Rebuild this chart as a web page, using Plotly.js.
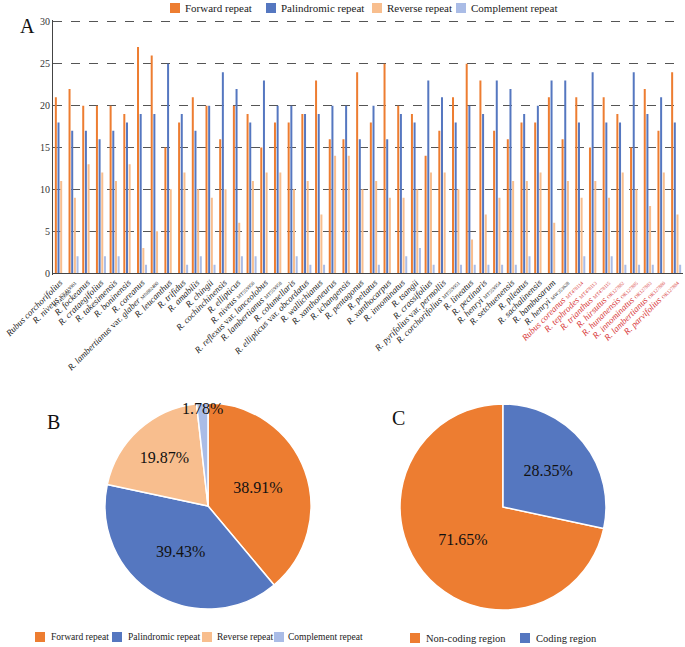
<!DOCTYPE html>
<html>
<head>
<meta charset="utf-8">
<script src="https://cdn.plot.ly/plotly-3.0.1.min.js"></script>
<style>
html,body{margin:0;padding:0;background:#fff;}
#chart{width:685px;height:647px;}
</style>
</head>
<body>
<div id="chart"></div>
<script>
// ---- Data ----
const species = [
  "Rubus corchorifolius","R. niveus","R. fockeanus","R. crataegifolius","R. takesimensis",
  "R. boninensis","R. coreanus","R. lambertianus var. glaber","R. leucanthus","R. trifidus",
  "R. amabilis","R. chingii","R. cochinchinensis","R. ellipticus","R. niveus",
  "R. reflexus var. lanceolobus","R. lambertianus","R. columellaris","R. ellipticus var. obcordatus","R. wallichianus",
  "R. xanthoneurus","R. ichangensis","R. pentagonus","R. peltatus","R. xanthocarpus",
  "R. innominatus","R. tsangii","R. crassifolius","R. pyrifolius var. permollis","R. corchorifolius",
  "R. lineatus","R. pectinaris","R. henryi","R. setchuenensis","R. pileatus",
  "R. sachalinensis","R. bambusarum","R. henryi","Rubus coreanus","R. tephrodes",
  "R. trianthus","R. hirsutus","R. hunanensis","R. innominatus","R. lambertianus",
  "R. parvifolius"
];
const accessions = [
  "KY419960","KY419961","","","",
  "","","MN882460","","",
  "","","","","MT559956",
  "","MT559958","","","",
  "","","","","",
  "","","","","MT559951",
  "","","MT559954","","",
  "","","MW353628","MT478114","MT478113",
  "MT478115","OK127882","OK127885","OK127883","OK127886",
  "OK127884"
];
const newlySequenced = [
  0,0,0,0,0, 0,0,0,0,0, 0,0,0,0,0, 0,0,0,0,0, 0,0,0,0,0,
  0,0,0,0,0, 0,0,0,0,0, 0,0,0,1,1, 1,1,1,1,1, 1
];
const forwardRepeat = [
  21,22,20,20,20, 19,27,26,15,18, 21,20,16,20,19, 15,18,18,19,23,
  16,16,24,18,25, 20,19,14,17,21, 25,23,17,16,18, 18,21,16,21,15,
  21,19,15,22,17, 24
];
const palindromicRepeat = [
  18,17,17,16,17, 18,19,19,25,19, 17,20,24,22,18, 23,20,20,19,19,
  20,20,16,20,16, 19,18,23,21,18, 20,19,23,22,19, 20,23,23,18,24,
  18,18,24,19,21, 18
];
const reverseRepeat = [
  11,9,13,12,11, 13,3,5,10,12, 10,9,10,6,11, 12,12,10,11,7,
  14,14,10,11,9, 9,10,12,12,10, 4,7,9,11,11, 12,6,11,9,11,
  9,12,10,8,12, 7
];
const complementRepeat = [
  0,2,0,2,2, 0,1,0,0,1, 2,1,0,2,2, 0,0,2,1,1,
  0,0,0,1,0, 2,3,1,0,1, 1,1,1,1,2, 0,0,0,2,0,
  2,1,1,1,0, 1
];
const seriesNames = ["Forward repeat","Palindromic repeat","Reverse repeat","Complement repeat"];
const repeatPercent = [38.91, 39.43, 19.87, 1.78];
const regionNames = ["Non-coding region","Coding region"];
const regionPercent = [71.65, 28.35];
const yTicks = [0,5,10,15,20,25,30];

// ---- Styles ----
const colors = ["#ED7D31","#5577C0","#F8BE8E","#AABCE6"];
const serif = "Liberation Serif";
const pieFont = {family:serif, size:16, color:"#111"};
const W = 685, H = 647;
const X = p => p / W, Y = p => 1 - p / H;

const catKeys = species.map((s,i)=>s + "|" + i);
const tickText = species.map((s,i)=>{
  let name = s.replace(" var. ", "</i> var. <i>");
  let t = "<i>" + name + "</i>";
  if (accessions[i]) t += (i === 0 ? "<br>" : " ") + "<span style='font-size:5px'>" + accessions[i] + "</span>";
  if (newlySequenced[i]) t = "<span style='color:#D8393A'>" + t + "</span>";
  return t;
});

const seriesValues = [forwardRepeat, palindromicRepeat, reverseRepeat, complementRepeat];
const traces = seriesValues.map((vals,k)=>({
  type:"bar", name:seriesNames[k], x:catKeys, y:vals,
  marker:{color:colors[k], line:{width:0}},
  xaxis:"x", yaxis:"y", showlegend:false
}));

// rotation so that the coding slice starts at 12 o'clock and runs clockwise
const regionTotal = regionPercent.reduce((a,b)=>a+b,0);
const codingRotation = regionPercent[1]/regionTotal*360;

traces.push({
  type:"pie", labels:seriesNames, values:repeatPercent,
  marker:{colors:colors, line:{color:"#fff", width:1.5}},
  sort:false, direction:"clockwise", rotation:0,
  texttemplate:"%{value:.2f}%", textposition:"inside", insidetextorientation:"horizontal",
  textfont:pieFont, insidetextfont:pieFont, showlegend:false,
  domain:{x:[X(105), X(311)], y:[Y(609), Y(403)]}
});
traces.push({
  type:"pie", labels:regionNames, values:regionPercent,
  marker:{colors:[colors[0], colors[1]], line:{color:"#fff", width:1.5}},
  sort:false, direction:"counterclockwise", rotation:codingRotation,
  texttemplate:"%{value:.2f}%", textposition:"inside", insidetextorientation:"horizontal",
  textfont:pieFont, insidetextfont:pieFont, showlegend:false,
  domain:{x:[X(400), X(606)], y:[Y(610), Y(404)]}
});

// ---- Legends (swatch + label), positioned in pixels ----
const shapes = [], annotations = [];
function legendItem(label, color, sx, sy, size, textX, fontSize){
  shapes.push({type:"rect", xref:"paper", yref:"paper",
    x0:X(sx), x1:X(sx+size), y0:Y(sy+size), y1:Y(sy),
    fillcolor:color, line:{width:0}});
  annotations.push({text:label, xref:"paper", yref:"paper", x:X(textX), y:Y(sy+size/2),
    xanchor:"left", yanchor:"middle", showarrow:false,
    font:{family:serif, size:fontSize, color:"#222"}});
}
const topSwatchX = [170, 266, 372, 456];
const topTextX = [183, 279, 385, 469];
seriesNames.forEach((n,k)=>legendItem(n, colors[k], topSwatchX[k], 3, 10, topTextX[k], 11));
const bSwatchX = [35, 112, 202, 274];
const bTextX = [49, 126, 215, 286];
seriesNames.forEach((n,k)=>legendItem(n, colors[k], bSwatchX[k], 632, 10, bTextX[k], 9.5));
const cSwatchX = [410, 520];
const cTextX = [424, 534];
regionNames.forEach((n,k)=>legendItem(n, colors[k], cSwatchX[k], 633, 10, cTextX[k], 10.5));

[["A",18,13],["B",45,422],["C",398,418]].forEach(([t,x,y])=>{
  annotations.push({text:t, x:X(x), y:Y(y), xref:"paper", yref:"paper", showarrow:false,
    font:{family:serif,size:20,color:"#111"}});
});

const layout = {
  width:W, height:H,
  margin:{l:0,r:0,t:0,b:0},
  paper_bgcolor:"#fff", plot_bgcolor:"#fff",
  font:{family:serif, color:"#222", size:11},
  bargap:0.22, bargroupgap:0.25, barmode:"group",
  uniformtext:{mode:"show", minsize:16},
  showlegend:false,
  xaxis:{
    domain:[X(53), X(683)], anchor:"y",
    type:"category", categoryorder:"array", categoryarray:catKeys,
    tickvals:catKeys, ticktext:tickText, tickangle:-45,
    tickfont:{family:serif, size:9, color:"#222"},
    showline:false, ticks:"", showgrid:false
  },
  yaxis:{
    domain:[Y(274.7), Y(20.3)], anchor:"x",
    range:[-0.2,30.2], tickvals:yTicks, ticktext:yTicks.map(String),
    tickfont:{family:serif, size:10, color:"#333"}, ticklabeloverflow:"allow",
    showline:true, linecolor:"#444", linewidth:1, ticks:"",
    showgrid:true, gridcolor:"#555", griddash:"dash", gridwidth:1,
    zeroline:true, zerolinecolor:"#444", zerolinewidth:1
  },
  shapes:shapes,
  annotations:annotations
};

Plotly.newPlot("chart", traces, layout, {displayModeBar:false, staticPlot:true});
</script>
</body>
</html>
